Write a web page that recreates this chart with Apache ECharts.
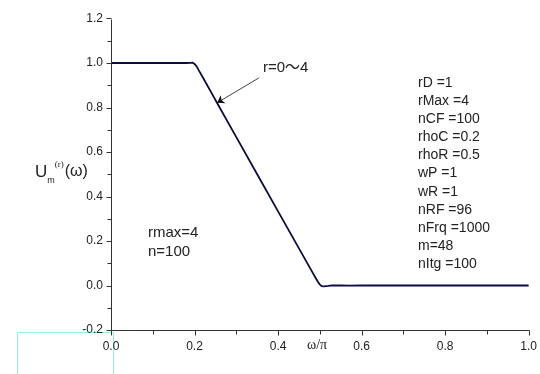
<!DOCTYPE html>
<html>
<head>
<meta charset="utf-8">
<script src="https://cdn.jsdelivr.net/npm/echarts@6/dist/echarts.min.js"></script>
<style>
  html, body { margin: 0; padding: 0; background: #fff; }
  #chart { width: 540px; height: 374px; }
</style>
</head>
<body>
<div id="chart"></div>
<script>
// 频率 ω/π
const omega = [0, 0.05, 0.1, 0.15, 0.18, 0.19, 0.195, 0.2, 0.205, 0.21, 0.22, 0.25, 0.3, 0.35, 0.4, 0.45, 0.48, 0.49, 0.495, 0.5, 0.505, 0.51, 0.52, 0.53, 0.55, 0.57, 0.6, 0.7, 0.8, 0.9, 1.0];
// 响应 U_m^(r)(ω)
const response = [1.0, 1.0, 1.0, 1.0, 1.0, 1.001, 1.002, 0.996, 0.985, 0.968, 0.935, 0.834, 0.667, 0.5, 0.333, 0.167, 0.067, 0.034, 0.018, 0.004, -0.003, -0.004, -0.002, 0.001, 0.0, -0.001, 0.0, 0.0, 0.0, 0.0, 0.0];
// 参数文字
const paramLines = ['rD =1', 'rMax =4', 'nCF =100', 'rhoC =0.2', 'rhoR =0.5', 'wP =1', 'wR =1', 'nRF =96', 'nFrq =1000', 'm=48', 'nItg =100'];
const leftNote = ['rmax=4', 'n=100'];

const font = 'Arial, "Liberation Sans", sans-serif';
const ink = '#222';
const axisColor = '#333';

const X_MIN = 0, X_MAX = 1.0, Y_MIN = -0.2, Y_MAX = 1.2;

const chart = echarts.init(document.getElementById('chart'));

function makeAxis(min, max, margin) {
  return {
    type: 'value',
    min: min, max: max, interval: 0.2,
    splitLine: { show: false },
    axisLine: { show: false, onZero: false },
    axisTick: { show: false },
    minorTick: { show: false },
    axisLabel: { color: ink, fontFamily: font, fontSize: 12, margin: margin, formatter: v => v.toFixed(1) }
  };
}

const baseGraphic = [
  {
    type: 'text', left: 263, top: 60,
    style: { text: 'r=0～4', font: '15px Arial, "Noto Sans CJK JP", sans-serif', fill: ink }
  },
  {
    type: 'text', left: 418, top: 74,
    style: { text: paramLines.join('\n'), font: '14px ' + font, lineHeight: 18.1, fill: ink }
  },
  {
    type: 'text', left: 148, top: 223,
    style: { text: leftNote.join('\n'), font: '15px ' + font, lineHeight: 19.5, fill: ink }
  },
  {
    type: 'text', left: 307, top: 338,
    style: { text: 'ω/π', font: '14px "Liberation Serif", "DejaVu Serif", serif', fill: ink }
  },
  {
    type: 'text', left: 35, top: 157,
    style: {
      text: '{u|U}{m|m}{r|(r)}{w|(ω)}',
      rich: {
        u: { font: '17px ' + font, fill: ink, lineHeight: 30, verticalAlign: 'middle' },
        m: { font: '9px ' + font, fill: ink, lineHeight: 30, verticalAlign: 'bottom', padding: [0, 0, 2, 0] },
        r: { font: '9px "Liberation Serif", serif', fill: ink, lineHeight: 30, verticalAlign: 'top', padding: [3, 0, 0, 0] },
        w: { font: '16px ' + font, fill: ink, lineHeight: 30, verticalAlign: 'middle', padding: [0, 0, 0, 1] }
      }
    }
  },
  {
    type: 'rect', left: 15, top: 330,
    shape: { width: 96, height: 50 },
    style: { fill: 'none', stroke: '#8ff0f0', lineWidth: 1 },
    z: -1
  }
];

const option = {
  grid: { left: 111, right: 11, top: 18.5, bottom: 44 },
  xAxis: makeAxis(X_MIN, X_MAX, 11),
  yAxis: makeAxis(Y_MIN, Y_MAX, 8),
  series: [
    {
      type: 'line',
      data: omega.map((x, i) => [x, response[i]]),
      showSymbol: false,
      lineStyle: { color: '#0b0b45', width: 1.8 },
      markLine: {
        silent: true,
        symbol: ['none', 'arrow'],
        symbolSize: 7,
        label: { show: false },
        lineStyle: { color: '#111', width: 0.8, type: 'solid' },
        data: [[{ coord: [0.354, 0.933] }, { coord: [0.254, 0.821] }]]
      }
    }
  ],
  graphic: baseGraphic
};

chart.setOption(option);

// 坐标轴线和刻度用 graphic 画，位置由 convertToPixel 换算
const px = (x, y) => chart.convertToPixel({ gridIndex: 0 }, [x, y]);
const crisp = v => Math.round(v) + 0.5;
const axisLines = [];
function seg(x1, y1, x2, y2) {
  axisLines.push({
    type: 'line', silent: true, z: 10,
    shape: { x1: x1, y1: y1, x2: x2, y2: y2 },
    style: { stroke: axisColor, lineWidth: 1 }
  });
}
const o = px(X_MIN, Y_MIN), xe = px(X_MAX, Y_MIN), ye = px(X_MIN, Y_MAX);
const ox = crisp(o[0]), oy = crisp(o[1]);
seg(ox, oy, crisp(xe[0]), oy);
seg(ox, oy, ox, crisp(ye[1]));
for (let i = 0; i <= 10; i++) {
  const p = px(X_MIN + i * 0.1, Y_MIN);
  const len = i % 2 === 0 ? 5 : 4;
  seg(crisp(p[0]), oy, crisp(p[0]), oy + len);
}
for (let i = 0; i <= 14; i++) {
  const p = px(X_MIN, Y_MIN + i * 0.1);
  const len = i % 2 === 0 ? 5 : 4;
  seg(ox - len, crisp(p[1]), ox, crisp(p[1]));
}
chart.setOption({ graphic: baseGraphic.concat(axisLines) });
</script>
</body>
</html>
